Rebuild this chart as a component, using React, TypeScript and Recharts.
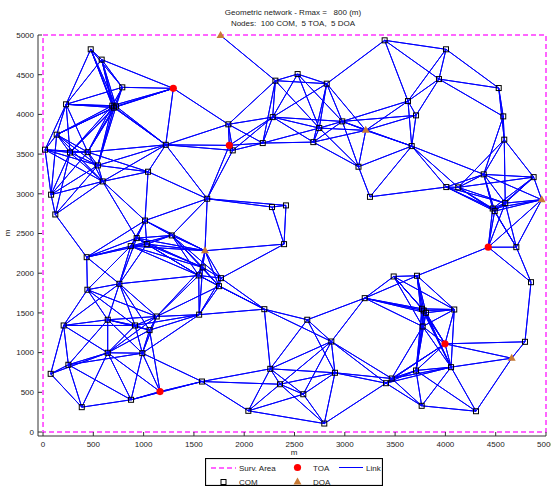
import React from 'react';
import { ScatterChart, Scatter, XAxis, YAxis, ReferenceArea } from 'recharts';

const RMAX = 800;
const TICKS = [0, 500, 1000, 1500, 2000, 2500, 3000, 3500, 4000, 4500, 5000];
const AREA = [0, 5000];

const COM: [number, number][] = [
  [474, 4820], [583, 4690], [788, 4341], [229, 4127], [689, 4110], [726, 4101], [705, 4085],
  [136, 3745], [20, 3556], [268, 3520], [444, 3525], [1220, 3617], [545, 3358], [1044, 3278],
  [593, 3156], [80, 2989], [122, 2740], [1632, 2938], [1014, 2663], [931, 2442], [1279, 2476],
  [872, 2341], [1031, 2366], [434, 2202], [1587, 2073], [1548, 1972], [759, 1867], [441, 1792],
  [1130, 1455], [1552, 1478], [643, 1414], [205, 1342], [915, 1342], [1059, 1283], [643, 998],
  [987, 993], [252, 847], [76, 733], [385, 313], [875, 406], [1580, 636],
  [2310, 4425], [2531, 4508], [2820, 4387], [2283, 3966], [1842, 3875], [2975, 3912],
  [2746, 3828], [1886, 3547], [2184, 3639], [2687, 3651], [3136, 3341],
  [3396, 4933], [4006, 4820], [3936, 4445], [4530, 4332], [3628, 4168], [3708, 3988],
  [4575, 3975], [4585, 3682], [3665, 3601], [3250, 2962], [2276, 2833], [2415, 2854],
  [2396, 2366], [1769, 1938], [1749, 1837], [3198, 1686],
  [4381, 3245], [4877, 3210], [4009, 3085], [4128, 3081], [4595, 2883], [4490, 2782], [4470, 2815],
  [4705, 2328], [4851, 1887], [3486, 1959], [3718, 1968],
  [2200, 1547], [2627, 1414], [2866, 1140], [2259, 796], [2902, 746], [2356, 602],
  [2587, 476], [2041, 267], [2796, 107],
  [3767, 1552], [3807, 1502], [3785, 1530], [4088, 1543], [3774, 1329], [4791, 1136],
  [3708, 775], [4056, 817], [3466, 674], [3409, 615], [3764, 330], [4304, 262],
];

const TOA: [number, number][] = [
  [1295, 4328], [1852, 3610], [1163, 510], [4426, 2328], [3996, 1111],
];

const DOA: [number, number][] = [
  [1765, 4995], [3208, 3799], [1610, 2283], [4957, 2926], [4659, 930],
];

const toPts = (a: [number, number][]) => a.map(([x, y]) => ({ x, y }));
const comData = toPts(COM);
const toaData = toPts(TOA);
const doaData = toPts(DOA);
const allNodes: [number, number][] = [...COM, ...TOA, ...DOA];

// links: node pairs within the communication range Rmax (as stated in the title).
// For each node, one "star" path goes out to each later neighbour and back.
const STARS: { x: number; y: number }[][] = [];
for (let i = 0; i < allNodes.length; i++) {
  const [xi, yi] = allNodes[i];
  const path = [{ x: xi, y: yi }];
  for (let j = i + 1; j < allNodes.length; j++) {
    const [xj, yj] = allNodes[j];
    if (Math.hypot(xi - xj, yi - yj) <= RMAX) path.push({ x: xj, y: yj }, { x: xi, y: yi });
  }
  if (path.length > 1) STARS.push(path);
}

const LINK = '#0000ff';
const SURV = '#ff33ff';
const TOA_C = '#ff0000';
const DOA_C = '#c87a35';
const FONT = '"Liberation Sans", Arial, Helvetica, sans-serif';

const NoShape = () => <g />;
const Square = (p: any) => (
  <rect x={p.cx - 2.5} y={p.cy - 2.5} width={5} height={5} fill="none" stroke="#000" strokeWidth={1} />
);
const Circle = (p: any) => <circle cx={p.cx} cy={p.cy} r={3.6} fill={TOA_C} stroke="none" />;
const Tri = (p: any) => (
  <polygon
    points={`${p.cx},${p.cy - 4.5} ${p.cx - 4},${p.cy + 2.5} ${p.cx + 4},${p.cy + 2.5}`}
    fill={DOA_C}
    stroke="none"
  />
);

const textStyle: React.CSSProperties = {
  position: 'absolute',
  fontFamily: FONT,
  fontSize: 8,
  lineHeight: '10px',
  color: '#222',
  whiteSpace: 'pre',
};

export default function App() {
  return (
    <div style={{ position: 'absolute', left: 0, top: 0, width: 551, height: 486, background: '#fff', overflow: 'hidden' }}>
      <div style={{ ...textStyle, left: 0, width: 586, top: 8, textAlign: 'center' }}>
        {'Geometric network - Rmax =   800 (m)'}
      </div>
      <div style={{ ...textStyle, left: 0, width: 586, top: 18.5, textAlign: 'center' }}>
        {'Nodes:  100 COM,  5 TOA,  5 DOA'}
      </div>
      <ScatterChart width={551} height={486} margin={{ top: 35, right: 5, left: 0, bottom: 0 }}>
        <XAxis
          type="number"
          dataKey="x"
          domain={[-50, 5000]}
          ticks={TICKS}
          interval={0}
          height={50}
          tickSize={-4}
          tickMargin={9}
          stroke="#333"
          tick={{ fontSize: 8, fill: '#222', fontFamily: FONT }}
        />
        <YAxis
          type="number"
          dataKey="y"
          domain={[-50, 5000]}
          ticks={TICKS}
          interval={0}
          width={38}
          tickSize={-4}
          tickMargin={8}
          stroke="#333"
          tick={{ fontSize: 8, fill: '#222', fontFamily: FONT }}
        />
        {STARS.map((s, k) => (
          <Scatter
            key={`link${k}`}
            data={s}
            line={{ stroke: LINK, strokeWidth: 1, fill: 'none' }}
            lineType="joint"
            shape={NoShape}
            isAnimationActive={false}
          />
        ))}
        <ReferenceArea
          x1={AREA[0]}
          x2={AREA[1]}
          y1={AREA[0]}
          y2={AREA[1]}
          fill="none"
          fillOpacity={0}
          stroke={SURV}
          strokeWidth={1.5}
          strokeDasharray="5 3"
          ifOverflow="visible"
        />
        <Scatter data={comData} shape={Square} isAnimationActive={false} />
        <Scatter data={toaData} shape={Circle} isAnimationActive={false} />
        <Scatter data={doaData} shape={Tri} isAnimationActive={false} />
      </ScatterChart>
      <div style={{ ...textStyle, left: 288, width: 12, top: 448, textAlign: 'center' }}>m</div>
      <div style={{ ...textStyle, left: 3, width: 10, top: 228, textAlign: 'center', transform: 'rotate(-90deg)' }}>m</div>
      <svg style={{ position: 'absolute', left: 205, top: 458 }} width={178} height={28}>
        <rect x={0.5} y={0.5} width={177} height={27} fill="#fff" stroke="#000" strokeWidth={1.2} />
        <line x1={6} y1={10} x2={31} y2={10} stroke={SURV} strokeWidth={1.5} strokeDasharray="5 3" />
        <text x={34} y={13} fontSize={8} fontFamily={FONT} fill="#222">Surv. Area</text>
        <circle cx={92.5} cy={9.5} r={3.6} fill={TOA_C} />
        <text x={108} y={13} fontSize={8} fontFamily={FONT} fill="#222">TOA</text>
        <line x1={134} y1={9.5} x2={158} y2={9.5} stroke={LINK} strokeWidth={1} />
        <text x={161} y={13} fontSize={8} fontFamily={FONT} fill="#222">Link</text>
        <rect x={16} y={21.5} width={5} height={5} fill="none" stroke="#000" strokeWidth={1} />
        <text x={34} y={27} fontSize={8} fontFamily={FONT} fill="#222">COM</text>
        <polygon points="92.5,19.5 88.5,26.5 96.5,26.5" fill={DOA_C} />
        <text x={108} y={27} fontSize={8} fontFamily={FONT} fill="#222">DOA</text>
      </svg>
    </div>
  );
}
